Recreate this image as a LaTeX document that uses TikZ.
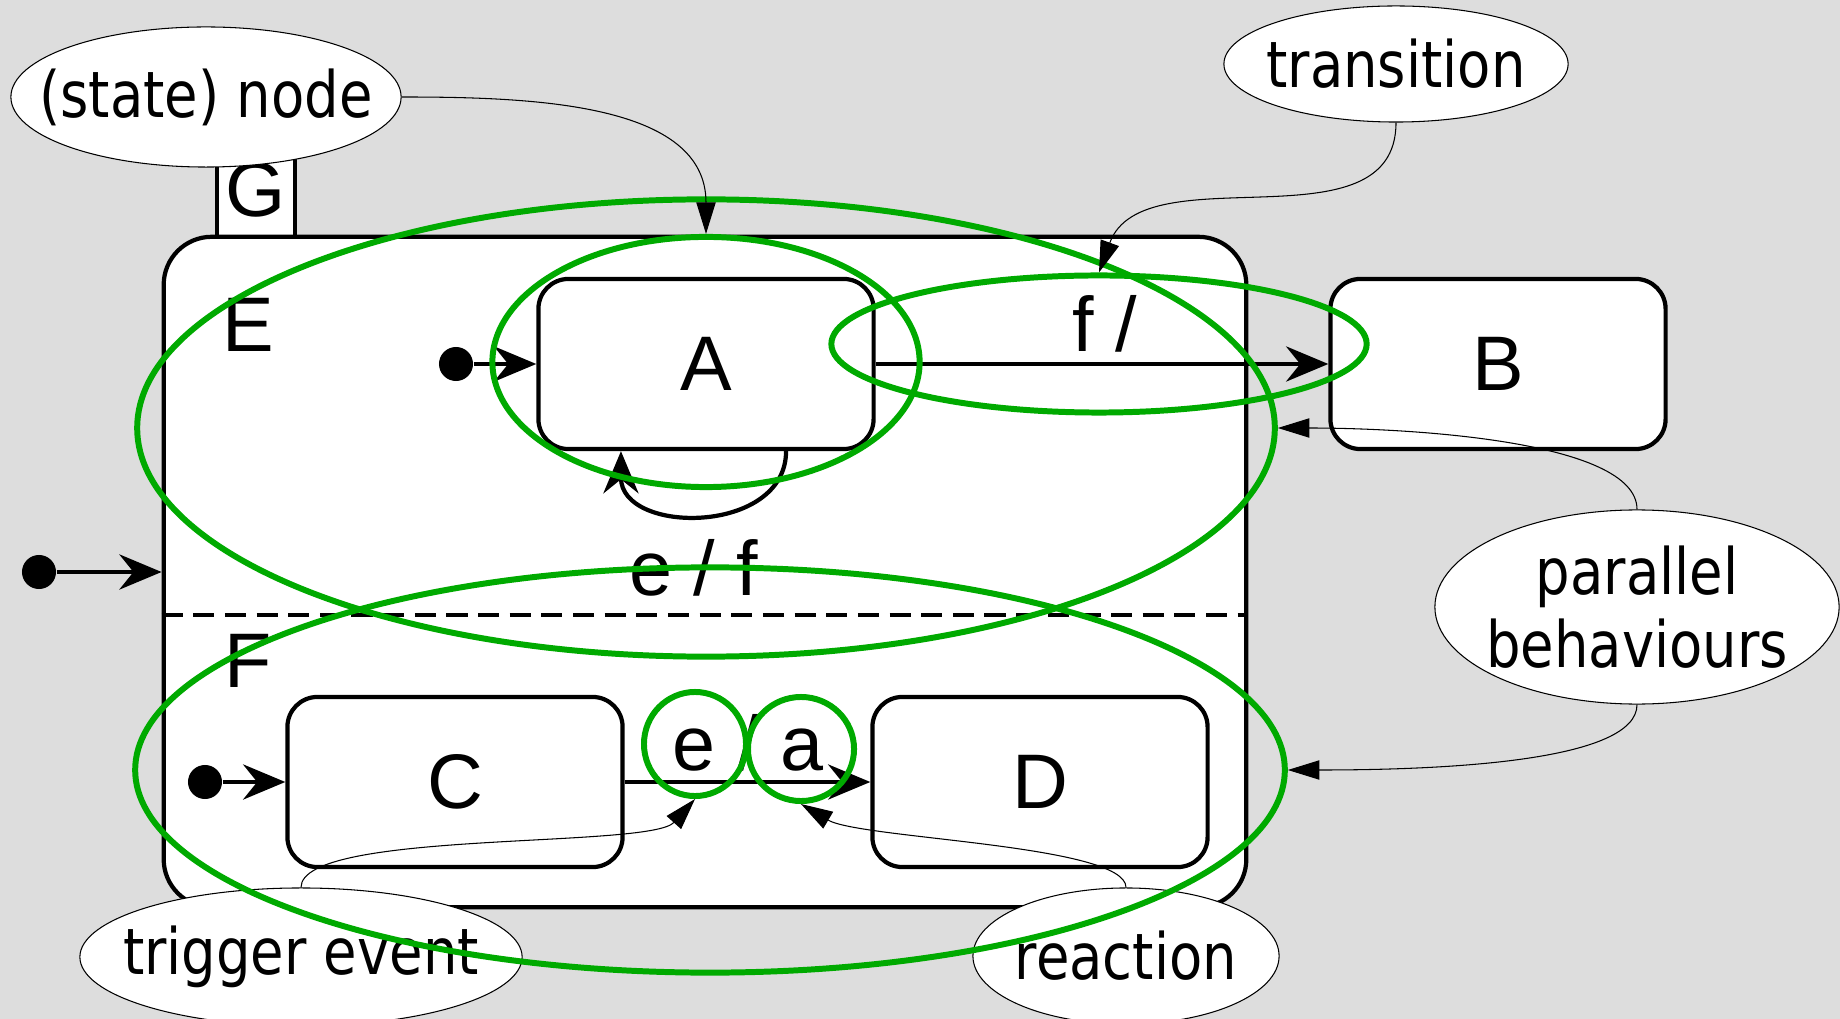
\documentclass[tikz,border=0pt]{standalone}
\usepackage{fontspec}
\setmainfont{Liberation Sans}
\newfontfamily\notefont[FakeStretch=0.85]{DejaVu Sans}
\usetikzlibrary{shapes.geometric,arrows.meta}
\definecolor{bg}{RGB}{221,221,221}
\definecolor{hl}{RGB}{0,170,0}

\begin{document}
\begin{tikzpicture}[x=0.01cm, y=-0.01cm,
    every node/.style={font=\fontsize{22}{26}\selectfont},
    every label/.style={align=center, font=\notefont\fontsize{18.2}{20.8}\selectfont},
    state/.style={draw, fill=white, line width=1.2pt, rounded corners=0.3cm, minimum width=3.35cm, minimum height=1.7cm, inner sep=0pt},
    init/.style={circle, fill=black, minimum size=0.34cm, inner sep=0pt},
    trans/.style={line width=1.2pt, -{Stealth[length=12pt, width=10pt, inset=4pt]}},
    note/.style={ellipse, draw, fill=white, line width=0.3pt, inner sep=0pt},
    hilite/.style={ellipse, draw=hl, line width=1.7pt, inner sep=0pt},
    pointer/.style={line width=0.3pt, -{Triangle[length=9pt, width=5.5pt]}}]
    \path[use as bounding box, fill=bg] (0,0) rectangle (1840,1019);

    % superstate G with its two parallel parts E and F
    \node[draw, fill=white, line width=1.2pt, minimum width=0.78cm, minimum height=0.94cm, inner sep=0pt] (G) at (256,190) {G};
    \node[state, rounded corners=0.48cm, minimum width=10.82cm, minimum height=6.7cm] (main) at (705,572) {};
    \node[anchor=base] (lE) at (248,352) {E};
    \node[anchor=base] (lF) at (248,687) {F};
    \coordinate (sep) at (0,615);
    \draw[line width=1.2pt, dash pattern=on 6pt off 3pt] (main.west |- sep) -- (main.east |- sep);

    \node[state] (A) at (706,364) {A};
    \node[state] (B) at (1498,364) {B};
    \node[state] (C) at (455,782) {C};
    \node[state] (D) at (1040,782) {D};

    \node[init] (iM) at (39,572) {};
    \node[init] (iA) at (456,364) {};
    \node[init] (iC) at (205,782) {};

    \draw[trans] (iM) -- (iM -| main.west);
    \draw[trans] (iA) -- (A);
    \draw[trans] (iC) -- (C);
    \draw[trans] (A) -- (B);
    \draw[trans] (C) -- (D);
    \draw[trans] ([xshift=0.8cm]A.south) .. controls +(0,84) and +(0,84) .. ([xshift=-0.85cm]A.south);
    \node[anchor=base] (lf) at (1105,352) {f /};
    \node[anchor=base] (lef) at (694,595) {e / f};
    \node[anchor=base] (lea) at (748,770) {e / a};

    % annotations
    \node[note, minimum width=3.9cm, minimum height=1.4cm, label=center:{(state) node}] (nstate) at (206,97) {};
    \node[note, minimum width=3.44cm, minimum height=1.16cm, label=center:transition] (ntrans) at (1396,64) {};
    \node[note, minimum width=4.04cm, minimum height=1.94cm, label=center:{parallel\\behaviours}] (npar) at (1637,607) {};
    \node[note, minimum width=4.42cm, minimum height=1.38cm, label=center:{trigger event}] (ntrig) at (301,957) {};
    \node[note, minimum width=3.06cm, minimum height=1.36cm, label=center:reaction] (nreac) at (1126,956) {};

    \node[hilite, minimum width=11.37cm, minimum height=4.57cm] (hE) at (706,428) {};
    \node[hilite, minimum width=11.49cm, minimum height=4.05cm] (hF) at (710,770) {};
    \node[hilite, minimum width=4.27cm, minimum height=2.5cm] (hA) at (706,362) {};
    \node[hilite, minimum width=5.35cm, minimum height=1.37cm] (hT) at (1099,344) {};
    \node[hilite, minimum width=1.02cm, minimum height=1.04cm] (he) at (695,744) {};
    \node[hilite, minimum width=1.06cm, minimum height=1.04cm] (ha) at (801,749) {};

    \draw[pointer] (nstate.east) .. controls +(131,0) and +(0,-131) .. (hA.north);
    \draw[pointer] (ntrans.south) .. controls +(0,129) and +(44,-121) .. (hT.north);
    \draw[pointer] (npar.north) .. controls +(0,-70) and +(124,0) .. (hE.east);
    \draw[pointer] (npar.south) .. controls +(0,56) and +(163,0) .. (hF.east);
    \draw[pointer] (ntrig.north) .. controls +(0,-58) and +(-45,50) .. (he.south);
    \draw[pointer] (nreac.north) .. controls +(0,-43) and +(59,35) .. (ha.south);
\end{tikzpicture}
\end{document}
